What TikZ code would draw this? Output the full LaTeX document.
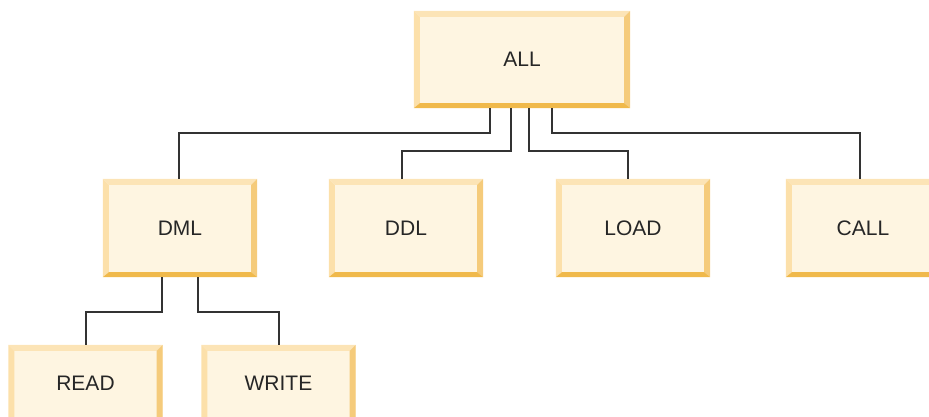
\documentclass[tikz,border=0pt]{standalone}
\usepackage{fontspec}
\setmainfont{Liberation Sans}
\definecolor{boxfill}{HTML}{FEF5E1}
\definecolor{bevtop}{HTML}{FCE4B6}
\definecolor{bevleft}{HTML}{FCE0AA}
\definecolor{bevright}{HTML}{F5CB7B}
\definecolor{bevbot}{HTML}{F0B94B}
\definecolor{linecol}{HTML}{333333}
\definecolor{textcol}{HTML}{262626}
\newcommand\bevels[1]{%
  \fill[bevleft] (#1.north west) -- ([xshift=6pt,yshift=-6pt]#1.north west) -- ([xshift=6pt,yshift=5pt]#1.south west) -- (#1.south west) -- cycle;
  \fill[bevtop] (#1.north west) -- (#1.north east) -- ([xshift=-6pt,yshift=-6pt]#1.north east) -- ([xshift=6pt,yshift=-6pt]#1.north west) -- cycle;
  \fill[bevright] (#1.north east) -- ([xshift=-6pt,yshift=-6pt]#1.north east) -- ([xshift=-6pt,yshift=5pt]#1.south east) -- (#1.south east) -- cycle;
  \fill[bevbot] (#1.south west) -- ([xshift=6pt,yshift=5pt]#1.south west) -- ([xshift=-6pt,yshift=5pt]#1.south east) -- (#1.south east) -- cycle;
}
\begin{document}
\begin{tikzpicture}[x=1pt,y=-1pt,
  box/.style={rectangle, fill=boxfill, inner sep=0pt, minimum width=154pt, minimum height=98pt},
  lbl/.style={text=textcol, font=\fontsize{21}{24}\selectfont},
  conn/.style={draw=linecol, line width=2pt}]
\useasboundingbox (0,0) rectangle (929,416);
\node[box, minimum width=216pt, minimum height=97pt] (ALL) at (522,59.5) {};
\node[box] (DML) at (180,228) {};
\node[box] (DDL) at (406,228) {};
\node[box] (LOAD) at (633,228) {};
\node[box] (CALL) at (863,228) {};
\node[box, minimum height=77pt] (READ) at (85.5,383.5) {};
\node[box, minimum height=77pt] (WRITE) at (278.5,383.5) {};
\foreach \n in {ALL,DML,DDL,LOAD,CALL,READ,WRITE} {\bevels{\n}}
\foreach \n in {ALL,DML,DDL,LOAD,CALL,READ,WRITE} {\node[lbl] (\n-t) at (\n) {\n};}
\draw[conn] ([xshift=-32pt]ALL.south) -- ++(0,25) -| ([xshift=-1pt]DML.north);
\draw[conn] ([xshift=-11pt]ALL.south) -- ++(0,43) -| ([xshift=-4pt]DDL.north);
\draw[conn] ([xshift=7pt]ALL.south) -- ++(0,43) -| ([xshift=-5pt]LOAD.north);
\draw[conn] ([xshift=30pt]ALL.south) -- ++(0,25) -| ([xshift=-3pt]CALL.north);
\draw[conn] ([xshift=-18pt]DML.south) -- ++(0,35) -| (READ.north);
\draw[conn] ([xshift=18pt]DML.south) -- ++(0,35) -| (WRITE.north);
\end{tikzpicture}
\end{document}
